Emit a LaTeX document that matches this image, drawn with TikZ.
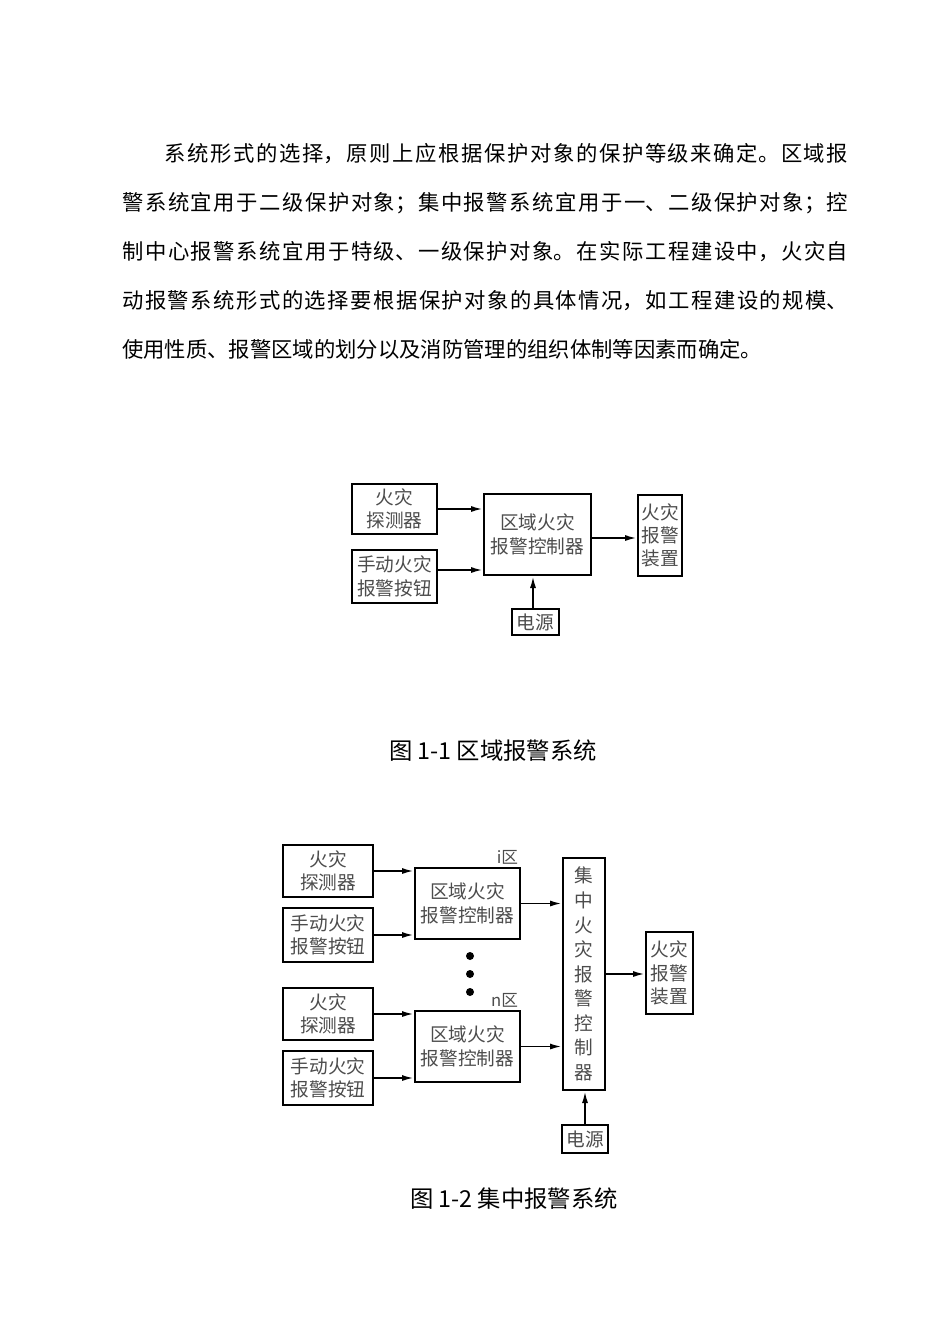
\documentclass[tikz,border=0pt]{standalone}
\usepackage{fontspec}
\setmainfont{Noto Sans CJK SC}
\usetikzlibrary{arrows.meta,positioning,calc}
\XeTeXlinebreaklocale "zh"
\XeTeXlinebreakskip=0pt plus 2pt
\definecolor{boxtext}{gray}{0.3}
\tikzset{
  blk/.style={draw, line width=1.5pt, inner sep=0pt, text=boxtext, align=center,
    font=\fontsize{14}{17.5}\selectfont},
  arr/.style={line width=1.4pt, -{Latex[length=9pt,width=4.5pt]}},
  figcap/.style={inner sep=0pt, font=\fontsize{17.5}{20}\selectfont},
  zone/.style={anchor=south east, inner sep=2pt, text=boxtext, font=\fontsize{12.5}{14}\selectfont}
}

\begin{document}
\begin{tikzpicture}[x=0.75pt,y=-0.75pt]
    \useasboundingbox (0,0) rectangle (950,1344);

    \node[anchor=north west, inner sep=0pt, text width=544.5pt, align=justify,
        font=\fontsize{16}{36.75}\selectfont] (para) at (122,143)
        {\hspace*{2em}系统形式的选择，原则上应根据保护对象的保护等级来确定。区域报\linebreak%
        警系统宜用于二级保护对象；集中报警系统宜用于一、二级保护对象；控\linebreak%
        制中心报警系统宜用于特级、一级保护对象。在实际工程建设中，火灾自\linebreak%
        动报警系统形式的选择要根据保护对象的具体情况，如工程建设的规模、\linebreak%
        使用性质、报警区域的划分以及消防管理的组织体制等因素而确定。};

    % figure 1-1
    \node[blk, minimum width=63.75pt, minimum height=37.5pt] (det) at (394.5,509) {火灾\\探测器};
    \node[blk, minimum width=63.75pt, minimum height=39.75pt] (btn) at (394.5,576.5) {手动火灾\\报警按钮};
    \node[blk, minimum width=80.25pt, minimum height=60.75pt] (ctrl) at (537.5,534.5) {区域火灾\\报警控制器};
    \node[blk, minimum width=33pt, minimum height=60.75pt] (alarm) at (660,535.5) {火灾\\报警\\装置};
    \node[blk, minimum width=35.25pt, minimum height=19.5pt] (power) at (535.5,622) {电源};

    \draw[arr] (det.east) -- (det.east -| ctrl.west);
    \draw[arr] (btn.east |- 0,570) -- (ctrl.west |- 0,570);
    \draw[arr] (ctrl.east |- 0,538) -- (alarm.west |- 0,538);
    \draw[arr] (power.north -| 533,0) -- (ctrl.south -| 533,0);

    \node[figcap] (cap1) at (493,751) {图 1-1 区域报警系统};

    % figure 1-2
    \node[blk, minimum width=31.5pt, minimum height=174pt,
        font=\fontsize{14}{18.4}\selectfont] (cen) at (584,974) {集\\中\\火\\灾\\报\\警\\控\\制\\器};
    \node[blk, minimum width=35.25pt, minimum height=61.5pt] (alarm2) at (669.5,973) {火灾\\报警\\装置};
    \node[blk, minimum width=34.5pt, minimum height=21pt] (power2) at (585,1139) {电源};

    \foreach \z/\dy/\lab in {1/0/i,2/143/n}
        {
            \node[blk, minimum width=67.5pt, minimum height=39pt] (det\z) at (328,871+\dy) {火灾\\探测器};
            \node[blk, minimum width=67.5pt, minimum height=40.5pt] (btn\z) at (328,935+\dy) {手动火灾\\报警按钮};
            \node[blk, minimum width=78.75pt, minimum height=53.25pt] (ctrl\z) at (467.5,903.5+\dy) {区域火灾\\报警控制器};
            \node[zone] (zone\z) at (ctrl\z.north east) {\lab 区};
            \draw[arr] (det\z.east) -- (det\z.east -| ctrl\z.west);
            \draw[arr] (btn\z.east) -- (btn\z.east -| ctrl\z.west);
            \draw[arr] (ctrl\z.east) -- (ctrl\z.east -| cen.west);
        }
    \foreach \y in {956,974,992}
        \fill (470,\y) circle (3pt);

    \draw[arr] (cen.east) -- (cen.east -| alarm2.west);
    \draw[arr] (power2.north) -- (power2.north |- cen.south);

    \node[figcap] (cap2) at (514,1199) {图 1-2 集中报警系统};
\end{tikzpicture}
\end{document}
